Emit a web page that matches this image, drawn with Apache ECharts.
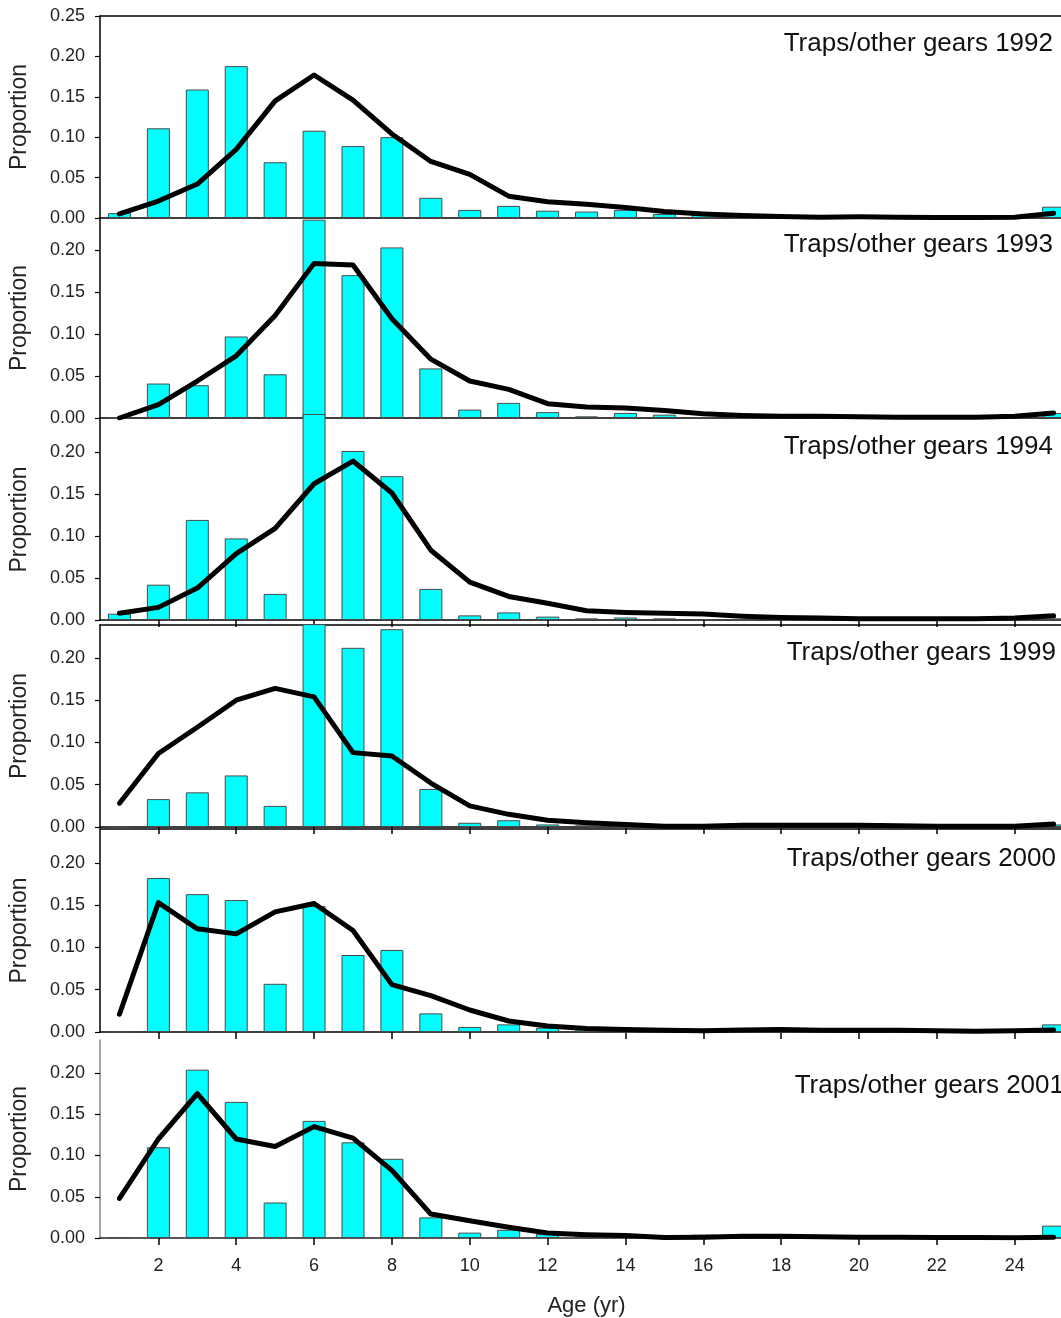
<!DOCTYPE html>
<html>
<head>
<meta charset="utf-8">
<script src="https://cdn.jsdelivr.net/npm/echarts@6/dist/echarts.min.js"></script>
<style>
html,body{margin:0;padding:0;background:#fff;}
#chart{width:1061px;height:1318px;}
</style>
</head>
<body>
<div id="chart"></div>
<script>
// ---- data ----
const ages = [1,2,3,4,5,6,7,8,9,10,11,12,13,14,15,16,17,18,19,20,21,22,23,24,25];
const xTickValues = [2,4,6,8,10,12,14,16,18,20,22,24];
const yTickValues = [0, 0.05, 0.10, 0.15, 0.20];
const yTickValuesTop = [0, 0.05, 0.10, 0.15, 0.20, 0.25];
const panelTitles = ['Traps/other gears 1992','Traps/other gears 1993','Traps/other gears 1994','Traps/other gears 1999','Traps/other gears 2000','Traps/other gears 2001'];

const obs1992 = [0.006,0.111,0.159,0.188,0.069,0.108,0.089,0.100,0.025,0.010,0.015,0.009,0.008,0.010,0.005,0.004,0,0,0,0,0,0,0,0,0.014];
const fit1992 = [0.005,0.021,0.042,0.085,0.145,0.177,0.146,0.104,0.070,0.054,0.027,0.020,0.017,0.013,0.008,0.005,0.003,0.002,0.001,0.0015,0.001,0.0005,0.0005,0.001,0.006];

const obs1993 = [0,0.041,0.039,0.097,0.052,0.236,0.170,0.203,0.059,0.010,0.018,0.007,0.002,0.006,0.004,0.001,0,0,0,0,0,0,0,0,0.006];
const fit1993 = [0,0.016,0.044,0.074,0.122,0.184,0.182,0.118,0.070,0.044,0.034,0.017,0.013,0.012,0.009,0.005,0.003,0.002,0.002,0.0015,0.001,0.001,0.001,0.002,0.006];

const obs1994 = [0.0075,0.042,0.119,0.097,0.031,0.245,0.201,0.171,0.037,0.0055,0.009,0.004,0.002,0.003,0.002,0.001,0,0,0,0,0,0,0,0,0.002];
const fit1994 = [0.008,0.015,0.038,0.079,0.109,0.162,0.189,0.151,0.083,0.045,0.028,0.020,0.011,0.009,0.008,0.007,0.0045,0.003,0.0025,0.0015,0.0015,0.0015,0.0015,0.0025,0.005];

const obs1999 = [0,0.033,0.041,0.061,0.025,0.240,0.212,0.234,0.045,0.005,0.008,0.003,0.002,0,0,0,0,0,0,0,0,0,0,0,0.003];
const fit1999 = [0.028,0.087,0.118,0.150,0.164,0.154,0.088,0.084,0.052,0.025,0.015,0.008,0.005,0.003,0.001,0.001,0.002,0.002,0.002,0.002,0.0015,0.001,0.001,0.001,0.0035];

const obs2000 = [0,0.182,0.163,0.156,0.057,0.149,0.091,0.097,0.022,0.006,0.009,0.005,0.003,0,0,0,0,0,0,0,0,0,0,0,0.009];
const fit2000 = [0.021,0.153,0.122,0.116,0.142,0.152,0.120,0.056,0.043,0.026,0.013,0.007,0.004,0.003,0.002,0.0015,0.0025,0.003,0.002,0.002,0.002,0.0015,0.001,0.0015,0.0025];

const obs2001 = [0.001,0.110,0.204,0.165,0.043,0.142,0.116,0.096,0.025,0.0065,0.010,0.005,0.005,0.004,0,0.004,0,0,0,0,0,0,0,0,0.015];
const fit2001 = [0.048,0.120,0.175,0.120,0.111,0.135,0.121,0.082,0.029,0.021,0.013,0.006,0.004,0.003,0.0005,0.001,0.002,0.002,0.0015,0.001,0.001,0.0005,0.0005,0.0003,0.001];

const observed = [obs1992, obs1993, obs1994, obs1999, obs2000, obs2001];
const fitted = [fit1992, fit1993, fit1994, fit1999, fit2000, fit2001];

// ---- layout (pixels) ----
const FONT = '"Liberation Sans", Arial, Helvetica, sans-serif';
const panels = [
  {top: 16,   height: 202, max: 0.25,  titleY: 45,   ticks: false, topLine: true,  axisColor: '#000'},
  {top: 218,  height: 200, max: 0.238, titleY: 246,  ticks: false, topLine: false, axisColor: '#000'},
  {top: 419,  height: 201, max: 0.239, titleY: 448,  ticks: true,  topLine: false, axisColor: '#000'},
  {top: 625,  height: 202, max: 0.239, titleY: 654,  ticks: true,  topLine: true,  axisColor: '#000'},
  {top: 829,  height: 203, max: 0.240, titleY: 860,  ticks: true,  topLine: true,  axisColor: '#000'},
  {top: 1040, height: 199, max: 0.240, titleY: 1087, ticks: true,  topLine: false, axisColor: '#888'}
];
const titleRight = [8, 8, 8, 5, 5, -3];

const grids = [], xAxes = [], yAxes = [], series = [], titles = [];
panels.forEach((p, i) => {
  grids.push({left: 99.5, right: 0, top: p.top, height: p.height, containLabel: false});
  const last = i === panels.length - 1;
  xAxes.push({
    type: 'value', gridIndex: i, min: 0.5, max: 25.19, position: 'bottom',
    axisLine: {show: true, onZero: false, lineStyle: {color: last ? '#222' : '#000', width: 1.5}},
    axisTick: {show: p.ticks, length: 7, inside: false, customValues: xTickValues, lineStyle: {color: '#000', width: 1.5}},
    axisLabel: {show: last, customValues: xTickValues, margin: 19, fontSize: 18, color: '#222', fontFamily: FONT},
    splitLine: {show: false},
    name: last ? 'Age (yr)' : '', nameLocation: 'middle', nameGap: 57,
    nameTextStyle: {fontSize: 22, color: '#222', fontFamily: FONT, padding: [0, 0, 0, 12]}
  });
  yAxes.push({
    type: 'value', gridIndex: i, min: 0, max: p.max,
    axisLine: {show: true, onZero: false, lineStyle: {color: p.axisColor, width: 1.5}},
    axisTick: {show: true, length: 5, inside: false, customValues: i === 0 ? yTickValuesTop : yTickValues, lineStyle: {color: '#000', width: 1.2}},
    axisLabel: {show: true, customValues: i === 0 ? yTickValuesTop : yTickValues, margin: 15, fontSize: 18, color: '#222', fontFamily: FONT,
      formatter: v => Number(v).toFixed(2)},
    splitLine: {show: false},
    name: 'Proportion', nameLocation: 'middle', nameGap: 69,
    nameTextStyle: {fontSize: 23, color: '#222', fontFamily: FONT}
  });
  series.push({
    type: 'bar', xAxisIndex: i, yAxisIndex: i, barWidth: 23, clip: false,
    itemStyle: {color: '#00FFFF', borderColor: '#4a4a4a', borderWidth: 1},
    data: ages.map((a, k) => [a, observed[i][k]]), z: 2, silent: true, animation: false
  });
  series.push({
    type: 'line', xAxisIndex: i, yAxisIndex: i, showSymbol: false, symbol: 'none',
    lineStyle: {color: '#000', width: 5, cap: 'round', join: 'round'},
    data: ages.map((a, k) => [a, fitted[i][k]]), z: 3, silent: true, animation: false
  });
  titles.push({
    text: panelTitles[i], right: titleRight[i], top: p.titleY - 14, padding: 0,
    textStyle: {fontSize: 26, fontWeight: 'normal', color: '#111', fontFamily: FONT}
  });
});
// top border lines for panels that have one
panels.forEach((p, i) => {
  if (p.topLine) {
    xAxes.push({
      type: 'value', gridIndex: i, min: 0.5, max: 25.19, position: 'top',
      axisLine: {show: true, onZero: false, lineStyle: {color: '#000', width: 1.5}},
      axisTick: {show: false}, axisLabel: {show: false}, splitLine: {show: false}
    });
  }
});

const chart = echarts.init(document.getElementById('chart'), null, {renderer: 'canvas'});
chart.setOption({
  animation: false,
  backgroundColor: '#fff',
  title: titles,
  grid: grids,
  xAxis: xAxes,
  yAxis: yAxes,
  series: series
});
</script>
</body>
</html>
